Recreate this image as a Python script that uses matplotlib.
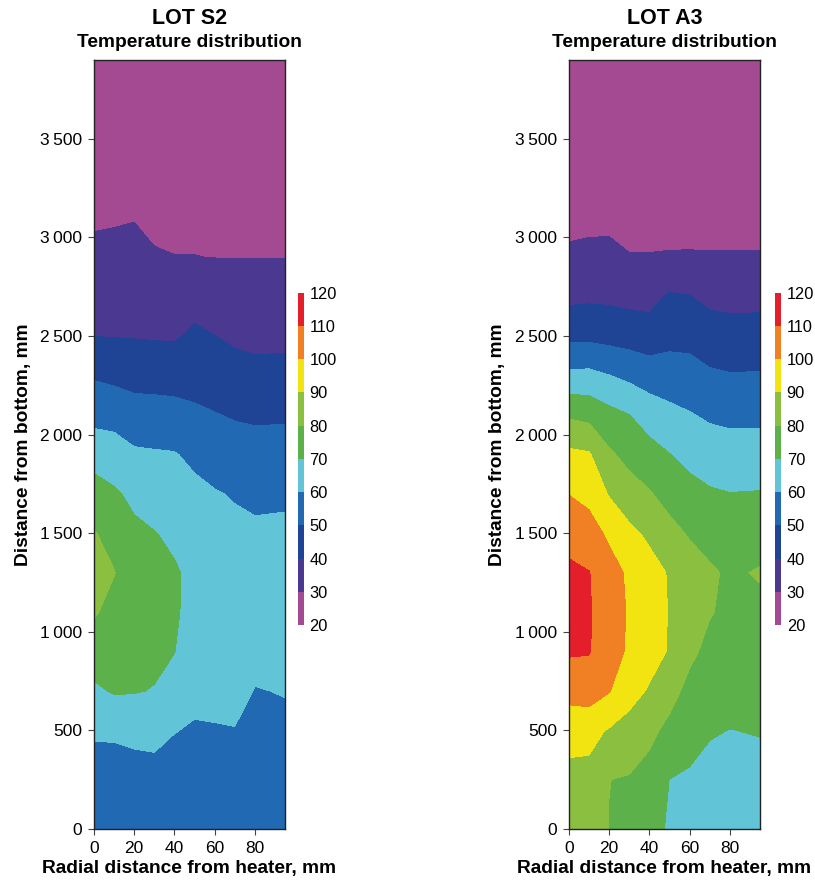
import numpy as np
import matplotlib
matplotlib.use('Agg')
import matplotlib.pyplot as plt
from matplotlib.ticker import FuncFormatter

plt.rcParams['font.family'] = ['Liberation Sans', 'DejaVu Sans']

# grid of sensor-like positions (mm)
radial_mm = [0, 10, 20, 30, 40, 50, 60, 70, 80, 95]
height_mm = [0, 250, 500, 700, 900, 1100, 1300, 1500, 1700, 1900,
             2100, 2300, 2500, 2700, 2900, 3100, 3900]

# temperatures (deg C), one row per height, one column per radial distance
temp_s2 = [
    [55.0, 55.0, 55.0, 55.0, 55.0, 55.0, 55.0, 55.0, 56.0, 56.0],
    [57.5, 57.5, 57.5, 57.5, 57.3, 57.2, 57.3, 57.4, 57.4, 57.5],
    [60.7, 60.8, 61.5, 62.0, 60.2, 59.4, 59.6, 59.8, 58.7, 59.0],
    [68.1, 70.9, 70.6, 69.5, 65.6, 61.5, 61.6, 61.8, 59.8, 60.2],
    [75.6, 74.0, 73.4, 72.4, 70.2, 63.6, 63.8, 63.9, 61.4, 61.7],
    [80.9, 77.1, 76.3, 75.0, 71.6, 65.8, 65.9, 66.0, 63.1, 63.2],
    [83.0, 80.3, 74.8, 72.6, 70.9, 68.0, 65.7, 63.9, 63.1, 63.1],
    [80.5, 77.0, 71.9, 70.3, 68.3, 65.1, 63.2, 61.8, 61.2, 61.4],
    [74.3, 71.3, 67.9, 65.7, 64.4, 62.1, 60.6, 59.4, 58.5, 58.8],
    [66.0, 64.5, 61.4, 60.9, 60.5, 58.1, 55.9, 54.4, 53.7, 53.9],
    [56.9, 56.5, 54.2, 53.9, 53.5, 51.6, 50.4, 49.2, 48.6, 48.8],
    [49.0, 47.6, 46.5, 46.3, 45.9, 46.4, 45.2, 43.6, 42.6, 42.8],
    [39.9, 39.7, 39.5, 39.2, 39.0, 41.7, 40.1, 38.4, 37.7, 37.8],
    [36.2, 36.2, 36.2, 35.0, 35.0, 36.4, 35.0, 34.1, 33.8, 33.8],
    [31.3, 31.5, 32.4, 30.5, 30.1, 30.1, 29.9, 29.9, 29.9, 29.9],
    [29.3, 29.5, 29.7, 28.7, 28.7, 28.6, 28.4, 28.3, 28.3, 28.3],
    [22.0, 22.0, 22.0, 22.0, 22.0, 22.0, 22.0, 22.0, 22.0, 22.0],
]

temp_a3 = [
    [86.0, 84.0, 79.8, 75.0, 73.0, 69.0, 67.0, 66.0, 66.0, 66.0],
    [88.0, 87.5, 80.1, 79.2, 77.0, 69.9, 69.0, 68.1, 68.0, 68.1],
    [92.5, 92.5, 89.3, 86.6, 82.0, 77.8, 72.8, 70.5, 69.9, 70.3],
    [104.0, 105.0, 100.5, 93.3, 89.1, 83.2, 77.4, 74.0, 72.5, 73.0],
    [111.0, 110.5, 104.5, 98.5, 93.5, 89.3, 82.0, 77.5, 75.0, 75.5],
    [115.5, 110.8, 105.0, 99.0, 94.0, 89.6, 85.0, 80.6, 78.0, 78.0],
    [112.0, 110.3, 104.0, 98.3, 93.3, 89.3, 84.5, 81.2, 78.8, 80.7],
    [106.4, 104.1, 98.2, 92.1, 88.3, 82.9, 79.1, 76.9, 74.9, 76.1],
    [99.8, 97.2, 89.3, 84.4, 80.8, 76.5, 73.2, 71.1, 70.2, 70.5],
    [92.1, 90.9, 81.5, 76.8, 73.6, 70.2, 67.1, 65.0, 64.2, 64.3],
    [78.6, 77.1, 73.0, 70.1, 65.5, 62.7, 60.6, 58.6, 57.7, 57.8],
    [62.3, 62.5, 60.2, 57.7, 55.3, 54.4, 53.8, 51.4, 50.5, 50.7],
    [47.5, 47.6, 46.7, 45.8, 44.6, 47.1, 46.9, 44.5, 43.7, 43.9],
    [37.8, 38.3, 38.1, 37.1, 36.8, 41.2, 40.3, 37.7, 37.2, 37.3],
    [30.7, 31.0, 31.0, 30.2, 30.2, 30.3, 30.3, 30.3, 30.3, 30.3],
    [28.9, 29.0, 29.1, 28.5, 28.5, 28.6, 28.7, 28.5, 28.5, 28.5],
    [22.0, 22.0, 22.0, 22.0, 22.0, 22.0, 22.0, 22.0, 22.0, 22.0],
]

levels = [20, 30, 40, 50, 60, 70, 80, 90, 100, 110, 120]
band_colors = ['#a44a93', '#4b3891', '#1f4495', '#216ab3', '#62c4d7',
               '#5cb14a', '#8bbf3f', '#f1e411', '#f08023', '#e41e2a']

lots = ['LOT S2', 'LOT A3']
temps = [temp_s2, temp_a3]

fig = plt.figure(figsize=(8.15, 8.88), dpi=100)

ax_left = [0.1153, 0.698]
cb_left = [0.3656, 0.951]

X, Y = np.meshgrid(radial_mm, height_mm)
thou = FuncFormatter(lambda v, p: f'{int(v):,}'.replace(',', '\u2009'))

for i in range(2):
    ax = fig.add_axes([ax_left[i], 0.0664, 0.2344, 0.866])
    cs = ax.contourf(X, Y, np.array(temps[i]), levels=levels, colors=band_colors)
    ax.set_xlim(0, 95)
    ax.set_ylim(0, 3900)
    ax.set_xticks([0, 20, 40, 60, 80])
    ax.set_yticks(range(0, 4000, 500))
    ax.yaxis.set_major_formatter(thou)
    ax.tick_params(labelsize=12.5, length=4.5, width=0.8, color='#444444', pad=4)
    for s in ax.spines.values():
        s.set_linewidth(1.0)
        s.set_color('#222222')
    ax.set_xlabel('Radial distance from heater, mm', fontsize=13.8,
                  fontweight='bold', labelpad=3)
    ax.set_ylabel('Distance from bottom, mm', fontsize=13.8,
                  fontweight='bold', labelpad=6)
    ax.text(0.5, 1.054, lots[i], transform=ax.transAxes, ha='center', va='center',
            fontsize=15.5, fontweight='bold')
    ax.text(0.5, 1.023, 'Temperature distribution', transform=ax.transAxes,
            ha='center', va='center', fontsize=13.8, fontweight='bold')

    cax = fig.add_axes([cb_left[i], 0.2962, 0.0074, 0.374])
    cb = fig.colorbar(cs, cax=cax, ticks=levels)
    cb.outline.set_visible(False)
    cb.ax.tick_params(length=0, labelsize=11.8, pad=4)

fig.savefig('out.png', dpi=100)
